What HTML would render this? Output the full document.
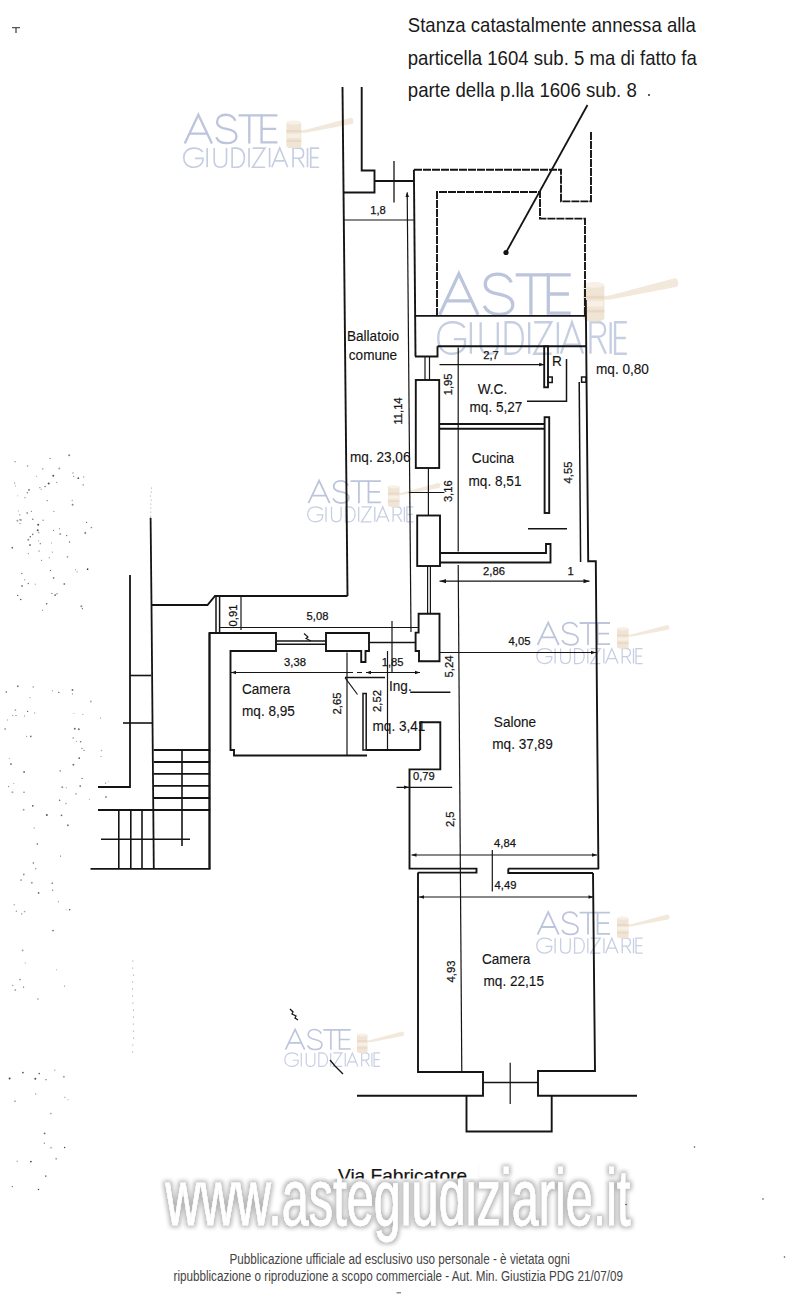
<!DOCTYPE html>
<html><head><meta charset="utf-8"><title>Planimetria</title>
<style>html,body{margin:0;padding:0;background:#fff;width:800px;height:1313px;overflow:hidden}svg{display:block}</style>
</head><body>
<svg width="800" height="1313" viewBox="0 0 800 1313" font-family='"Liberation Sans", sans-serif'>
<defs>
<filter id="glow" x="-5%" y="-20%" width="110%" height="140%">
<feMorphology in="SourceAlpha" operator="dilate" radius="2" result="d"/>
<feGaussianBlur in="d" stdDeviation="1.9" result="b"/>
<feComponentTransfer in="b" result="c"><feFuncA type="linear" slope="0.28"/></feComponentTransfer>
<feMerge><feMergeNode in="c"/><feMergeNode in="SourceGraphic"/></feMerge>
</filter>
<clipPath id="viaclip"><rect x="300" y="1140" width="200" height="38.6"/></clipPath>
</defs>
<rect width="800" height="1313" fill="#ffffff"/>
<g transform="translate(184,114) scale(1.28)" opacity="1"><path d="M0.6,23 L11.2,0.5 L21.8,23 M4.3,15.4 H18.1" fill="none" stroke="#bcc5db" stroke-width="1.8"/><path d="M40.2,5.2 C38.6,1.8 35.6,0.6 32.6,0.6 C28.6,0.6 25.8,2.8 25.8,6.2 C25.8,9.6 28.6,10.8 33.2,11.7 C38.2,12.6 41,14.2 41,17.4 C41,21 37.6,22.8 33.2,22.8 C29.2,22.8 26.4,21 25.2,18.2" fill="none" stroke="#bcc5db" stroke-width="1.8"/><path d="M42.6,1 H61 M51,1 V23" fill="none" stroke="#bcc5db" stroke-width="1.8"/><path d="M73,1 H60.6 V22.2 H73 M60.6,11.6 H72" fill="none" stroke="#bcc5db" stroke-width="1.8"/><path transform="scale(1.0,1)" d="M14.6,29.6 C13,27.400000000000002 10.6,26.6 7.6,26.6 C2.6,26.6 -0.2,30.0 -0.2,34.1 C-0.2,38.2 2.6,41.6 7.6,41.6 C11.6,41.6 14.8,39.2 14.8,36.0 V34.7 H8.6 M18.1,26.6 V41.6 M23.6,26.6 V36.6 C23.6,40.2 25.6,41.6 28.4,41.6 C31.2,41.6 33.2,40.2 33.2,36.6 V26.6 M37.6,26.6 V41.6 H41 C45,41.6 47.2,38.2 47.2,34.1 C47.2,30.0 45,26.6 41,26.6 Z M50.8,26.6 V41.6 M53.6,26.6 H63.2 L53.6,41.6 H63.4 M66.9,26.6 V41.6 M68.6,41.6 L74.8,26.6 L81,41.6 M70.8,36.6 H78.8 M85.2,41.6 V26.6 H89.6 C92,26.6 93.4,28.200000000000003 93.4,30.6 C93.4,33.0 92,34.6 89.6,34.6 H85.2 M89.4,34.6 L93.8,41.6 M96.5,26.6 V41.6 M105.6,26.6 H99 V41.6 H105.6 M99,34.1 H105" fill="none" stroke="#c6cee2" stroke-width="1.3"/><path d="M91.5,12.8 L95,12.3 L130.4,2.9 C132.6,2.6 133.2,7.4 131.2,7.8 L95,14.6 L91.5,14.8 Z" fill="#f2e8db"/><path d="M80,7 C80,5.4 91.6,5.4 91.6,7 V25 C91.6,27.4 80,27.4 80,25 Z" fill="#f0e4d4"/><ellipse cx="85.8" cy="6.6" rx="5.8" ry="1.6" fill="#f7f0e6"/><rect x="80" y="12.6" width="11.6" height="1.6" fill="#e8d8c4"/><rect x="80.6" y="15.4" width="10.4" height="3.2" fill="#f7f0e6"/><rect x="80" y="20.4" width="11.6" height="1.4" fill="#e8d8c4"/></g>
<g transform="translate(438.6,273) scale(1.81)" opacity="1"><path d="M0.6,23 L11.2,0.5 L21.8,23 M4.3,15.4 H18.1" fill="none" stroke="#bcc5db" stroke-width="1.8"/><path d="M40.2,5.2 C38.6,1.8 35.6,0.6 32.6,0.6 C28.6,0.6 25.8,2.8 25.8,6.2 C25.8,9.6 28.6,10.8 33.2,11.7 C38.2,12.6 41,14.2 41,17.4 C41,21 37.6,22.8 33.2,22.8 C29.2,22.8 26.4,21 25.2,18.2" fill="none" stroke="#bcc5db" stroke-width="1.8"/><path d="M42.6,1 H61 M51,1 V23" fill="none" stroke="#bcc5db" stroke-width="1.8"/><path d="M73,1 H60.6 V22.2 H73 M60.6,11.6 H72" fill="none" stroke="#bcc5db" stroke-width="1.8"/><path transform="scale(0.985,1)" d="M14.6,30.2 C13,28.0 10.6,27.2 7.6,27.2 C2.6,27.2 -0.2,30.599999999999998 -0.2,35.9 C-0.2,41.2 2.6,44.6 7.6,44.6 C11.6,44.6 14.8,42.2 14.8,39.0 V36.5 H8.6 M18.1,27.2 V44.6 M23.6,27.2 V39.6 C23.6,43.2 25.6,44.6 28.4,44.6 C31.2,44.6 33.2,43.2 33.2,39.6 V27.2 M37.6,27.2 V44.6 H41 C45,44.6 47.2,41.2 47.2,35.9 C47.2,30.599999999999998 45,27.2 41,27.2 Z M50.8,27.2 V44.6 M53.6,27.2 H63.2 L53.6,44.6 H63.4 M66.9,27.2 V44.6 M68.6,44.6 L74.8,27.2 L81,44.6 M70.8,39.6 H78.8 M85.2,44.6 V27.2 H89.6 C92,27.2 93.4,28.8 93.4,31.2 C93.4,33.6 92,35.2 89.6,35.2 H85.2 M89.4,35.2 L93.8,44.6 M96.5,27.2 V44.6 M105.6,27.2 H99 V44.6 H105.6 M99,35.9 H105" fill="none" stroke="#c6cee2" stroke-width="1.3"/><path d="M91.5,12.8 L95,12.3 L130.4,2.9 C132.6,2.6 133.2,7.4 131.2,7.8 L95,14.6 L91.5,14.8 Z" fill="#f2e8db"/><path d="M80,7 C80,5.4 91.6,5.4 91.6,7 V25 C91.6,27.4 80,27.4 80,25 Z" fill="#f0e4d4"/><ellipse cx="85.8" cy="6.6" rx="5.8" ry="1.6" fill="#f7f0e6"/><rect x="80" y="12.6" width="11.6" height="1.6" fill="#e8d8c4"/><rect x="80.6" y="15.4" width="10.4" height="3.2" fill="#f7f0e6"/><rect x="80" y="20.4" width="11.6" height="1.4" fill="#e8d8c4"/></g>
<g transform="translate(307.9,480.2) scale(1.0)" opacity="1"><path d="M0.6,23 L11.2,0.5 L21.8,23 M4.3,15.4 H18.1" fill="none" stroke="#bcc5db" stroke-width="1.8"/><path d="M40.2,5.2 C38.6,1.8 35.6,0.6 32.6,0.6 C28.6,0.6 25.8,2.8 25.8,6.2 C25.8,9.6 28.6,10.8 33.2,11.7 C38.2,12.6 41,14.2 41,17.4 C41,21 37.6,22.8 33.2,22.8 C29.2,22.8 26.4,21 25.2,18.2" fill="none" stroke="#bcc5db" stroke-width="1.8"/><path d="M42.6,1 H61 M51,1 V23" fill="none" stroke="#bcc5db" stroke-width="1.8"/><path d="M73,1 H60.6 V22.2 H73 M60.6,11.6 H72" fill="none" stroke="#bcc5db" stroke-width="1.8"/><path transform="scale(1.0,1)" d="M14.6,29.6 C13,27.400000000000002 10.6,26.6 7.6,26.6 C2.6,26.6 -0.2,30.0 -0.2,34.1 C-0.2,38.2 2.6,41.6 7.6,41.6 C11.6,41.6 14.8,39.2 14.8,36.0 V34.7 H8.6 M18.1,26.6 V41.6 M23.6,26.6 V36.6 C23.6,40.2 25.6,41.6 28.4,41.6 C31.2,41.6 33.2,40.2 33.2,36.6 V26.6 M37.6,26.6 V41.6 H41 C45,41.6 47.2,38.2 47.2,34.1 C47.2,30.0 45,26.6 41,26.6 Z M50.8,26.6 V41.6 M53.6,26.6 H63.2 L53.6,41.6 H63.4 M66.9,26.6 V41.6 M68.6,41.6 L74.8,26.6 L81,41.6 M70.8,36.6 H78.8 M85.2,41.6 V26.6 H89.6 C92,26.6 93.4,28.200000000000003 93.4,30.6 C93.4,33.0 92,34.6 89.6,34.6 H85.2 M89.4,34.6 L93.8,41.6 M96.5,26.6 V41.6 M105.6,26.6 H99 V41.6 H105.6 M99,34.1 H105" fill="none" stroke="#c6cee2" stroke-width="1.3"/><path d="M91.5,12.8 L95,12.3 L130.4,2.9 C132.6,2.6 133.2,7.4 131.2,7.8 L95,14.6 L91.5,14.8 Z" fill="#f2e8db"/><path d="M80,7 C80,5.4 91.6,5.4 91.6,7 V25 C91.6,27.4 80,27.4 80,25 Z" fill="#f0e4d4"/><ellipse cx="85.8" cy="6.6" rx="5.8" ry="1.6" fill="#f7f0e6"/><rect x="80" y="12.6" width="11.6" height="1.6" fill="#e8d8c4"/><rect x="80.6" y="15.4" width="10.4" height="3.2" fill="#f7f0e6"/><rect x="80" y="20.4" width="11.6" height="1.4" fill="#e8d8c4"/></g>
<g transform="translate(537,622) scale(1.0)" opacity="1"><path d="M0.6,23 L11.2,0.5 L21.8,23 M4.3,15.4 H18.1" fill="none" stroke="#bcc5db" stroke-width="1.8"/><path d="M40.2,5.2 C38.6,1.8 35.6,0.6 32.6,0.6 C28.6,0.6 25.8,2.8 25.8,6.2 C25.8,9.6 28.6,10.8 33.2,11.7 C38.2,12.6 41,14.2 41,17.4 C41,21 37.6,22.8 33.2,22.8 C29.2,22.8 26.4,21 25.2,18.2" fill="none" stroke="#bcc5db" stroke-width="1.8"/><path d="M42.6,1 H61 M51,1 V23" fill="none" stroke="#bcc5db" stroke-width="1.8"/><path d="M73,1 H60.6 V22.2 H73 M60.6,11.6 H72" fill="none" stroke="#bcc5db" stroke-width="1.8"/><path transform="scale(1.0,1)" d="M14.6,29.6 C13,27.400000000000002 10.6,26.6 7.6,26.6 C2.6,26.6 -0.2,30.0 -0.2,34.1 C-0.2,38.2 2.6,41.6 7.6,41.6 C11.6,41.6 14.8,39.2 14.8,36.0 V34.7 H8.6 M18.1,26.6 V41.6 M23.6,26.6 V36.6 C23.6,40.2 25.6,41.6 28.4,41.6 C31.2,41.6 33.2,40.2 33.2,36.6 V26.6 M37.6,26.6 V41.6 H41 C45,41.6 47.2,38.2 47.2,34.1 C47.2,30.0 45,26.6 41,26.6 Z M50.8,26.6 V41.6 M53.6,26.6 H63.2 L53.6,41.6 H63.4 M66.9,26.6 V41.6 M68.6,41.6 L74.8,26.6 L81,41.6 M70.8,36.6 H78.8 M85.2,41.6 V26.6 H89.6 C92,26.6 93.4,28.200000000000003 93.4,30.6 C93.4,33.0 92,34.6 89.6,34.6 H85.2 M89.4,34.6 L93.8,41.6 M96.5,26.6 V41.6 M105.6,26.6 H99 V41.6 H105.6 M99,34.1 H105" fill="none" stroke="#c6cee2" stroke-width="1.3"/><path d="M91.5,12.8 L95,12.3 L130.4,2.9 C132.6,2.6 133.2,7.4 131.2,7.8 L95,14.6 L91.5,14.8 Z" fill="#f2e8db"/><path d="M80,7 C80,5.4 91.6,5.4 91.6,7 V25 C91.6,27.4 80,27.4 80,25 Z" fill="#f0e4d4"/><ellipse cx="85.8" cy="6.6" rx="5.8" ry="1.6" fill="#f7f0e6"/><rect x="80" y="12.6" width="11.6" height="1.6" fill="#e8d8c4"/><rect x="80.6" y="15.4" width="10.4" height="3.2" fill="#f7f0e6"/><rect x="80" y="20.4" width="11.6" height="1.4" fill="#e8d8c4"/></g>
<g transform="translate(537,911.6) scale(1.0)" opacity="1"><path d="M0.6,23 L11.2,0.5 L21.8,23 M4.3,15.4 H18.1" fill="none" stroke="#bcc5db" stroke-width="1.8"/><path d="M40.2,5.2 C38.6,1.8 35.6,0.6 32.6,0.6 C28.6,0.6 25.8,2.8 25.8,6.2 C25.8,9.6 28.6,10.8 33.2,11.7 C38.2,12.6 41,14.2 41,17.4 C41,21 37.6,22.8 33.2,22.8 C29.2,22.8 26.4,21 25.2,18.2" fill="none" stroke="#bcc5db" stroke-width="1.8"/><path d="M42.6,1 H61 M51,1 V23" fill="none" stroke="#bcc5db" stroke-width="1.8"/><path d="M73,1 H60.6 V22.2 H73 M60.6,11.6 H72" fill="none" stroke="#bcc5db" stroke-width="1.8"/><path transform="scale(1.0,1)" d="M14.6,29.6 C13,27.400000000000002 10.6,26.6 7.6,26.6 C2.6,26.6 -0.2,30.0 -0.2,34.1 C-0.2,38.2 2.6,41.6 7.6,41.6 C11.6,41.6 14.8,39.2 14.8,36.0 V34.7 H8.6 M18.1,26.6 V41.6 M23.6,26.6 V36.6 C23.6,40.2 25.6,41.6 28.4,41.6 C31.2,41.6 33.2,40.2 33.2,36.6 V26.6 M37.6,26.6 V41.6 H41 C45,41.6 47.2,38.2 47.2,34.1 C47.2,30.0 45,26.6 41,26.6 Z M50.8,26.6 V41.6 M53.6,26.6 H63.2 L53.6,41.6 H63.4 M66.9,26.6 V41.6 M68.6,41.6 L74.8,26.6 L81,41.6 M70.8,36.6 H78.8 M85.2,41.6 V26.6 H89.6 C92,26.6 93.4,28.200000000000003 93.4,30.6 C93.4,33.0 92,34.6 89.6,34.6 H85.2 M89.4,34.6 L93.8,41.6 M96.5,26.6 V41.6 M105.6,26.6 H99 V41.6 H105.6 M99,34.1 H105" fill="none" stroke="#c6cee2" stroke-width="1.3"/><path d="M91.5,12.8 L95,12.3 L130.4,2.9 C132.6,2.6 133.2,7.4 131.2,7.8 L95,14.6 L91.5,14.8 Z" fill="#f2e8db"/><path d="M80,7 C80,5.4 91.6,5.4 91.6,7 V25 C91.6,27.4 80,27.4 80,25 Z" fill="#f0e4d4"/><ellipse cx="85.8" cy="6.6" rx="5.8" ry="1.6" fill="#f7f0e6"/><rect x="80" y="12.6" width="11.6" height="1.6" fill="#e8d8c4"/><rect x="80.6" y="15.4" width="10.4" height="3.2" fill="#f7f0e6"/><rect x="80" y="20.4" width="11.6" height="1.4" fill="#e8d8c4"/></g>
<g transform="translate(285,1029) scale(0.9)" opacity="1"><path d="M0.6,23 L11.2,0.5 L21.8,23 M4.3,15.4 H18.1" fill="none" stroke="#bcc5db" stroke-width="1.8"/><path d="M40.2,5.2 C38.6,1.8 35.6,0.6 32.6,0.6 C28.6,0.6 25.8,2.8 25.8,6.2 C25.8,9.6 28.6,10.8 33.2,11.7 C38.2,12.6 41,14.2 41,17.4 C41,21 37.6,22.8 33.2,22.8 C29.2,22.8 26.4,21 25.2,18.2" fill="none" stroke="#bcc5db" stroke-width="1.8"/><path d="M42.6,1 H61 M51,1 V23" fill="none" stroke="#bcc5db" stroke-width="1.8"/><path d="M73,1 H60.6 V22.2 H73 M60.6,11.6 H72" fill="none" stroke="#bcc5db" stroke-width="1.8"/><path transform="scale(1.0,1)" d="M14.6,29.6 C13,27.400000000000002 10.6,26.6 7.6,26.6 C2.6,26.6 -0.2,30.0 -0.2,34.1 C-0.2,38.2 2.6,41.6 7.6,41.6 C11.6,41.6 14.8,39.2 14.8,36.0 V34.7 H8.6 M18.1,26.6 V41.6 M23.6,26.6 V36.6 C23.6,40.2 25.6,41.6 28.4,41.6 C31.2,41.6 33.2,40.2 33.2,36.6 V26.6 M37.6,26.6 V41.6 H41 C45,41.6 47.2,38.2 47.2,34.1 C47.2,30.0 45,26.6 41,26.6 Z M50.8,26.6 V41.6 M53.6,26.6 H63.2 L53.6,41.6 H63.4 M66.9,26.6 V41.6 M68.6,41.6 L74.8,26.6 L81,41.6 M70.8,36.6 H78.8 M85.2,41.6 V26.6 H89.6 C92,26.6 93.4,28.200000000000003 93.4,30.6 C93.4,33.0 92,34.6 89.6,34.6 H85.2 M89.4,34.6 L93.8,41.6 M96.5,26.6 V41.6 M105.6,26.6 H99 V41.6 H105.6 M99,34.1 H105" fill="none" stroke="#c6cee2" stroke-width="1.3"/><path d="M91.5,12.8 L95,12.3 L130.4,2.9 C132.6,2.6 133.2,7.4 131.2,7.8 L95,14.6 L91.5,14.8 Z" fill="#f2e8db"/><path d="M80,7 C80,5.4 91.6,5.4 91.6,7 V25 C91.6,27.4 80,27.4 80,25 Z" fill="#f0e4d4"/><ellipse cx="85.8" cy="6.6" rx="5.8" ry="1.6" fill="#f7f0e6"/><rect x="80" y="12.6" width="11.6" height="1.6" fill="#e8d8c4"/><rect x="80.6" y="15.4" width="10.4" height="3.2" fill="#f7f0e6"/><rect x="80" y="20.4" width="11.6" height="1.4" fill="#e8d8c4"/></g>
<text x="407.8" y="32" font-size="18.6" text-anchor="start" fill="#1a1a1a" textLength="288" lengthAdjust="spacingAndGlyphs" transform="matrix(1 0 0 1.1 0 -3.200)">Stanza catastalmente annessa alla</text>
<text x="407.8" y="65" font-size="18.6" text-anchor="start" fill="#1a1a1a" textLength="289" lengthAdjust="spacingAndGlyphs" transform="matrix(1 0 0 1.1 0 -6.500)">particella 1604 sub. 5 ma di fatto fa</text>
<text x="407.8" y="97.5" font-size="18.6" text-anchor="start" fill="#1a1a1a" textLength="229" lengthAdjust="spacingAndGlyphs" transform="matrix(1 0 0 1.1 0 -9.750)">parte della p.lla 1606 sub. 8</text>
<circle cx="649" cy="95" r="0.9" fill="#141414"/>
<path d="M12,27.6 H20 M16,27.6 V33" stroke="#555" stroke-width="1.4" fill="none"/>
<path d="M587.5,105 L506,252.5" fill="none" stroke="#141414" stroke-width="1.8" stroke-linejoin="miter" stroke-linecap="butt"/>
<circle cx="506" cy="252.5" r="2.6" fill="#141414"/>
<path d="M342.5,87 L347.5,596" fill="none" stroke="#141414" stroke-width="1.9" stroke-linejoin="miter" stroke-linecap="butt"/>
<path d="M361.7,87 V170.5 H374.5 V192.5 H343.4" fill="none" stroke="#141414" stroke-width="1.9" stroke-linejoin="miter" stroke-linecap="butt"/>
<path d="M374.5,181 L413.8,181" fill="none" stroke="#141414" stroke-width="1.9" stroke-linejoin="miter" stroke-linecap="butt"/>
<path d="M394,161 L394,202.5" fill="none" stroke="#141414" stroke-width="1.3" stroke-linejoin="miter" stroke-linecap="butt"/>
<path d="M343.6,220 L413.8,220" fill="none" stroke="#141414" stroke-width="1.2" stroke-linejoin="miter" stroke-linecap="butt"/>
<text x="378" y="214.032" font-size="11.2" text-anchor="middle" fill="#141414" stroke="#141414" stroke-width="0.25">1,8</text>
<path d="M407.2,192.5 L411,632" fill="none" stroke="#141414" stroke-width="1.2" stroke-linejoin="miter" stroke-linecap="butt"/>
<polygon points="407.2,192 405.45,197 408.95,197" fill="#141414"/>
<path d="M413.9,169.8 L415.5,356.5" fill="none" stroke="#141414" stroke-width="1.9" stroke-linejoin="miter" stroke-linecap="butt"/>
<path d="M414,169.8 H561 V201.4 H591 V131" fill="none" stroke="#141414" stroke-width="1.9" stroke-dasharray="8 1" stroke-linejoin="miter" stroke-linecap="butt"/>
<path d="M437,316 V192 H540 V218.6 H585 V316" fill="none" stroke="#141414" stroke-width="1.9" stroke-dasharray="8 1" stroke-linejoin="miter" stroke-linecap="butt"/>
<path d="M414.5,315.9 L585.8,315.9" fill="none" stroke="#141414" stroke-width="1.9" stroke-linejoin="miter" stroke-linecap="butt"/>
<path d="M437.5,346.3 L586.3,346.3" fill="none" stroke="#141414" stroke-width="1.9" stroke-linejoin="miter" stroke-linecap="butt"/>
<path d="M437.5,346.3 V356.5 H415" fill="none" stroke="#141414" stroke-width="1.9" stroke-linejoin="miter" stroke-linecap="butt"/>
<path d="M585.8,300 L588.2,561.2 H595.8 L598.4,869" fill="none" stroke="#141414" stroke-width="1.9" stroke-linejoin="miter" stroke-linecap="butt"/>
<path d="M425,356.5 L425,380" fill="none" stroke="#141414" stroke-width="1.2" stroke-linejoin="miter" stroke-linecap="butt"/>
<path d="M429.5,356.5 L429.5,380" fill="none" stroke="#141414" stroke-width="1.2" stroke-linejoin="miter" stroke-linecap="butt"/>
<rect x="415.8" y="380" width="23.4" height="88" fill="none" stroke="#141414" stroke-width="1.9"/>
<path d="M428.4,468 L428.4,515.5" fill="none" stroke="#141414" stroke-width="1.2" stroke-linejoin="miter" stroke-linecap="butt"/>
<path d="M408.8,492.5 L444.4,492.5" fill="none" stroke="#141414" stroke-width="1.2" stroke-linejoin="miter" stroke-linecap="butt"/>
<rect x="417.2" y="515.5" width="22.8" height="50.5" fill="none" stroke="#141414" stroke-width="1.9"/>
<path d="M427.6,566 L427.6,613.8" fill="none" stroke="#141414" stroke-width="1.2" stroke-linejoin="miter" stroke-linecap="butt"/>
<path d="M430.4,566 L430.4,613.8" fill="none" stroke="#141414" stroke-width="1.2" stroke-linejoin="miter" stroke-linecap="butt"/>
<path d="M418.6,613.8 H439.5 V661.3 H419 V651 H415.6 V632.6 H418.6 Z" fill="none" stroke="#141414" stroke-width="1.9" stroke-linejoin="miter" stroke-linecap="butt"/>
<rect x="544.2" y="346.3" width="3.8" height="41" fill="none" stroke="#141414" stroke-width="1.9"/>
<rect x="548" y="377" width="4.2" height="5.5" fill="none" stroke="#141414" stroke-width="1.5"/>
<path d="M566.5,359 V401.3 H527" fill="none" stroke="#141414" stroke-width="1.5" stroke-linejoin="miter" stroke-linecap="butt"/>
<rect x="581.6" y="377" width="4.4" height="5.2" fill="none" stroke="#141414" stroke-width="1.5"/>
<path d="M579.2,382 L580.6,562" fill="none" stroke="#141414" stroke-width="1.5" stroke-linejoin="miter" stroke-linecap="butt"/>
<path d="M439.2,424 L544.6,424" fill="none" stroke="#141414" stroke-width="1.9" stroke-linejoin="miter" stroke-linecap="butt"/>
<path d="M439.2,428.8 L544.6,428.8" fill="none" stroke="#141414" stroke-width="1.9" stroke-linejoin="miter" stroke-linecap="butt"/>
<rect x="544.6" y="417.2" width="4.6" height="95.8" fill="none" stroke="#141414" stroke-width="1.9"/>
<path d="M528,528.8 L567,528.8" fill="none" stroke="#141414" stroke-width="1.5" stroke-linejoin="miter" stroke-linecap="butt"/>
<path d="M440,553 H546 V544 H550.5 V562.5 H440" fill="none" stroke="#141414" stroke-width="1.9" stroke-linejoin="miter" stroke-linecap="butt"/>
<path d="M458.2,347.5 L458.2,551.5" fill="none" stroke="#141414" stroke-width="1.2" stroke-linejoin="miter" stroke-linecap="butt"/>
<path d="M439.5,364.6 L544.2,364.6" fill="none" stroke="#141414" stroke-width="1.2" stroke-linejoin="miter" stroke-linecap="butt"/>
<polygon points="544.2,364.6 539.2,362.85 539.2,366.35" fill="#141414"/>
<text x="491" y="358.532" font-size="11.2" text-anchor="middle" fill="#141414" stroke="#141414" stroke-width="0.25">2,7</text>
<text x="451.632" y="384.4" font-size="11.2" text-anchor="middle" fill="#141414" stroke="#141414" stroke-width="0.25" transform="rotate(-90 451.632 384.4)">1,95</text>
<text x="402.032" y="411" font-size="11.2" text-anchor="middle" fill="#141414" stroke="#141414" stroke-width="0.25" transform="rotate(-90 402.032 411)">11,14</text>
<text x="452.23199999999997" y="491.2" font-size="11.2" text-anchor="middle" fill="#141414" stroke="#141414" stroke-width="0.25" transform="rotate(-90 452.23199999999997 491.2)">3,16</text>
<text x="572.2320000000001" y="472.5" font-size="11.2" text-anchor="middle" fill="#141414" stroke="#141414" stroke-width="0.25" transform="rotate(-90 572.2320000000001 472.5)">4,55</text>
<path d="M439.5,581.2 L589.5,581.2" fill="none" stroke="#141414" stroke-width="1.2" stroke-linejoin="miter" stroke-linecap="butt"/>
<polygon points="440,581.2 446,579.1 446,583.3000000000001" fill="#141414"/>
<polygon points="589.5,581.2 583.5,579.1 583.5,583.3000000000001" fill="#141414"/>
<text x="494" y="574.532" font-size="11.2" text-anchor="middle" fill="#141414" stroke="#141414" stroke-width="0.25">2,86</text>
<text x="570.5" y="574.532" font-size="11.2" text-anchor="middle" fill="#141414" stroke="#141414" stroke-width="0.25">1</text>
<path d="M458.2,565 L461.8,1072" fill="none" stroke="#141414" stroke-width="1.2" stroke-linejoin="miter" stroke-linecap="butt"/>
<path d="M439.5,652.5 L596,652.5" fill="none" stroke="#141414" stroke-width="1.2" stroke-linejoin="miter" stroke-linecap="butt"/>
<polygon points="596,652.5 591,650.75 591,654.25" fill="#141414"/>
<text x="519.5" y="644.832" font-size="11.2" text-anchor="middle" fill="#141414" stroke="#141414" stroke-width="0.25">4,05</text>
<text x="453.032" y="666.5" font-size="11.2" text-anchor="middle" fill="#141414" stroke="#141414" stroke-width="0.25" transform="rotate(-90 453.032 666.5)">5,24</text>
<path d="M347.5,596 H215 L207.5,605 H151" fill="none" stroke="#141414" stroke-width="1.9" stroke-linejoin="miter" stroke-linecap="butt"/>
<path d="M216,597 L216,632.5" fill="none" stroke="#141414" stroke-width="1.5" stroke-linejoin="miter" stroke-linecap="butt"/>
<path d="M219.6,597 L219.6,632.5" fill="none" stroke="#141414" stroke-width="1.5" stroke-linejoin="miter" stroke-linecap="butt"/>
<path d="M241,597 L241,630" fill="none" stroke="#141414" stroke-width="1.2" stroke-linejoin="miter" stroke-linecap="butt"/>
<text x="236.532" y="615.5" font-size="11.2" text-anchor="middle" fill="#141414" stroke="#141414" stroke-width="0.25" transform="rotate(-90 236.532 615.5)">0,91</text>
<path d="M220,627.5 L418,627.5" fill="none" stroke="#141414" stroke-width="1.2" stroke-linejoin="miter" stroke-linecap="butt"/>
<text x="317.5" y="620.2320000000001" font-size="11.2" text-anchor="middle" fill="#141414" stroke="#141414" stroke-width="0.25">5,08</text>
<path d="M392,621 L392,672.5" fill="none" stroke="#141414" stroke-width="1.2" stroke-linejoin="miter" stroke-linecap="butt"/>
<path d="M209.5,868.8 V633 H276 V651 H230.5 V750 H234 V755.5 H367" fill="none" stroke="#141414" stroke-width="1.9" stroke-linejoin="miter" stroke-linecap="butt"/>
<path d="M276,641 L326,641" fill="none" stroke="#141414" stroke-width="1.5" stroke-linejoin="miter" stroke-linecap="butt"/>
<path d="M276,644.2 L326,644.2" fill="none" stroke="#141414" stroke-width="1.5" stroke-linejoin="miter" stroke-linecap="butt"/>
<path d="M326,633 H369 V651 H365.5 V662 H361.2 V651 H326 Z" fill="none" stroke="#141414" stroke-width="1.9" stroke-linejoin="miter" stroke-linecap="butt"/>
<path d="M369,642.4 L415.6,642.4" fill="none" stroke="#141414" stroke-width="1.5" stroke-linejoin="miter" stroke-linecap="butt"/>
<path d="M304,633.5 L308,637 L306,638.5 L311,641" fill="none" stroke="#141414" stroke-width="1.1" stroke-linejoin="miter" stroke-linecap="butt"/>
<path d="M230.5,672.5 L347,672.5" fill="none" stroke="#141414" stroke-width="1.2" stroke-linejoin="miter" stroke-linecap="butt"/>
<path d="M347,672.5 L362,672.5" fill="none" stroke="#141414" stroke-width="1.2" stroke-dasharray="6 4" stroke-linejoin="miter" stroke-linecap="butt"/>
<path d="M366,672.5 L420,672.5" fill="none" stroke="#141414" stroke-width="1.2" stroke-linejoin="miter" stroke-linecap="butt"/>
<polygon points="366,672.5 371,670.75 371,674.25" fill="#141414"/>
<polygon points="231,672.5 236,670.75 236,674.25" fill="#141414"/>
<polygon points="420,672.5 415,670.75 415,674.25" fill="#141414"/>
<text x="295" y="666.2320000000001" font-size="11.2" text-anchor="middle" fill="#141414" stroke="#141414" stroke-width="0.25">3,38</text>
<text x="392.6" y="665.6320000000001" font-size="11.2" text-anchor="middle" fill="#141414" stroke="#141414" stroke-width="0.25">1,85</text>
<path d="M347,652.5 L347,755.5" fill="none" stroke="#141414" stroke-width="1.2" stroke-linejoin="miter" stroke-linecap="butt"/>
<path d="M387.5,651 L387.5,750" fill="none" stroke="#141414" stroke-width="1.2" stroke-linejoin="miter" stroke-linecap="butt"/>
<path d="M345,677.6 L385,677.6" fill="none" stroke="#141414" stroke-width="1.5" stroke-linejoin="miter" stroke-linecap="butt"/>
<path d="M345,677.6 L357.5,694.5" fill="none" stroke="#141414" stroke-width="1.1" stroke-linejoin="miter" stroke-linecap="butt"/>
<rect x="363" y="693.5" width="3.2" height="56.5" fill="none" stroke="#141414" stroke-width="1.5"/>
<path d="M366.2,750 L420.2,750" fill="none" stroke="#141414" stroke-width="1.9" stroke-linejoin="miter" stroke-linecap="butt"/>
<text x="341.032" y="703.5" font-size="11.2" text-anchor="middle" fill="#141414" stroke="#141414" stroke-width="0.25" transform="rotate(-90 341.032 703.5)">2,65</text>
<text x="381.032" y="701" font-size="11.2" text-anchor="middle" fill="#141414" stroke="#141414" stroke-width="0.25" transform="rotate(-90 381.032 701)">2,52</text>
<path d="M420.2,750 V722.3 H440.3 V769.4 H409.5 V868.6 H476.5 V872.6 H418" fill="none" stroke="#141414" stroke-width="1.9" stroke-linejoin="miter" stroke-linecap="butt"/>
<path d="M410.2,692.3 L450.4,692.3" fill="none" stroke="#141414" stroke-width="1.5" stroke-linejoin="miter" stroke-linecap="butt"/>
<path d="M396.5,787.3 L452.2,787.3" fill="none" stroke="#141414" stroke-width="1.2" stroke-linejoin="miter" stroke-linecap="butt"/>
<polygon points="409,787.3 404,785.55 404,789.05" fill="#141414"/>
<text x="423.9" y="780.432" font-size="11.2" text-anchor="middle" fill="#141414" stroke="#141414" stroke-width="0.25">0,79</text>
<text x="453.632" y="819.2" font-size="11.2" text-anchor="middle" fill="#141414" stroke="#141414" stroke-width="0.25" transform="rotate(-90 453.632 819.2)">2,5</text>
<path d="M411.5,855 L597,855" fill="none" stroke="#141414" stroke-width="1.2" stroke-linejoin="miter" stroke-linecap="butt"/>
<polygon points="411.5,855 416.5,853.25 416.5,856.75" fill="#141414"/>
<polygon points="597,855 592,853.25 592,856.75" fill="#141414"/>
<text x="505" y="847.2320000000001" font-size="11.2" text-anchor="middle" fill="#141414" stroke="#141414" stroke-width="0.25">4,84</text>
<path d="M492.3,850 L492.3,891.4" fill="none" stroke="#141414" stroke-width="1.2" stroke-linejoin="miter" stroke-linecap="butt"/>
<text x="505.5" y="889.032" font-size="11.2" text-anchor="middle" fill="#141414" stroke="#141414" stroke-width="0.25">4,49</text>
<path d="M508.3,868.6 H599 M508.3,868.6 V873 H593" fill="none" stroke="#141414" stroke-width="1.9" stroke-linejoin="miter" stroke-linecap="butt"/>
<path d="M419,897 L593.5,897" fill="none" stroke="#141414" stroke-width="1.2" stroke-linejoin="miter" stroke-linecap="butt"/>
<polygon points="419,897 424,895.25 424,898.75" fill="#141414"/>
<polygon points="593.5,897 588.5,895.25 588.5,898.75" fill="#141414"/>
<path d="M418,872.6 V1072 H483 V1095.7 H357" fill="none" stroke="#141414" stroke-width="1.9" stroke-linejoin="miter" stroke-linecap="butt"/>
<path d="M593,873 L595,1071 H538 V1095.7 H637" fill="none" stroke="#141414" stroke-width="1.9" stroke-linejoin="miter" stroke-linecap="butt"/>
<path d="M483,1082.5 L538,1082.5" fill="none" stroke="#141414" stroke-width="1.5" stroke-linejoin="miter" stroke-linecap="butt"/>
<path d="M510.2,1062.7 L510.2,1104" fill="none" stroke="#141414" stroke-width="1.2" stroke-linejoin="miter" stroke-linecap="butt"/>
<path d="M466.5,1095.7 V1131.5 H551.7 V1095.7" fill="none" stroke="#141414" stroke-width="1.9" stroke-linejoin="miter" stroke-linecap="butt"/>
<text x="455.032" y="971.5" font-size="11.2" text-anchor="middle" fill="#141414" stroke="#141414" stroke-width="0.25" transform="rotate(-90 455.032 971.5)">4,93</text>
<path d="M130,575 V787 H98" fill="none" stroke="#141414" stroke-width="1.8" stroke-linejoin="miter" stroke-linecap="butt"/>
<path d="M150.6,517.7 L151.5,605" fill="none" stroke="#141414" stroke-width="1.8" stroke-linejoin="miter" stroke-linecap="butt"/>
<path d="M151.5,605 L153.8,868.8" fill="none" stroke="#141414" stroke-width="1.8" stroke-linejoin="miter" stroke-linecap="butt"/>
<path d="M130,675.5 L151,675.5" fill="none" stroke="#141414" stroke-width="1.6" stroke-linejoin="miter" stroke-linecap="butt"/>
<path d="M123,723 L152.5,723" fill="none" stroke="#141414" stroke-width="1.6" stroke-linejoin="miter" stroke-linecap="butt"/>
<path d="M153.8,750 L209.5,750" fill="none" stroke="#141414" stroke-width="1.8" stroke-linejoin="miter" stroke-linecap="butt"/>
<path d="M153.8,750 L210.2,750" fill="none" stroke="#141414" stroke-width="1.8" stroke-linejoin="miter" stroke-linecap="butt"/>
<path d="M153.8,762 L210.2,762" fill="none" stroke="#141414" stroke-width="1.8" stroke-linejoin="miter" stroke-linecap="butt"/>
<path d="M153.8,773.8 L210.2,773.8" fill="none" stroke="#141414" stroke-width="1.8" stroke-linejoin="miter" stroke-linecap="butt"/>
<path d="M153.8,785.8 L210.2,785.8" fill="none" stroke="#141414" stroke-width="1.8" stroke-linejoin="miter" stroke-linecap="butt"/>
<path d="M153.8,798 L210.2,798" fill="none" stroke="#141414" stroke-width="1.8" stroke-linejoin="miter" stroke-linecap="butt"/>
<path d="M153.8,810 L210.2,810" fill="none" stroke="#141414" stroke-width="1.8" stroke-linejoin="miter" stroke-linecap="butt"/>
<path d="M182,750 L182,846" fill="none" stroke="#141414" stroke-width="1.6" stroke-linejoin="miter" stroke-linecap="butt"/>
<path d="M98,810 L153.8,810" fill="none" stroke="#141414" stroke-width="1.8" stroke-linejoin="miter" stroke-linecap="butt"/>
<path d="M118.8,810 L118.8,868.8" fill="none" stroke="#141414" stroke-width="1.6" stroke-linejoin="miter" stroke-linecap="butt"/>
<path d="M130.8,810 L130.8,868.8" fill="none" stroke="#141414" stroke-width="1.6" stroke-linejoin="miter" stroke-linecap="butt"/>
<path d="M142,810 L142,868.8" fill="none" stroke="#141414" stroke-width="1.6" stroke-linejoin="miter" stroke-linecap="butt"/>
<path d="M101,839.2 L190,839.2" fill="none" stroke="#141414" stroke-width="1.6" stroke-linejoin="miter" stroke-linecap="butt"/>
<path d="M90.5,868.8 L210.5,868.8" fill="none" stroke="#141414" stroke-width="1.8" stroke-linejoin="miter" stroke-linecap="butt"/>
<path d="M209.5,633 V868.8" fill="none" stroke="#141414" stroke-width="1.8" stroke-linejoin="miter" stroke-linecap="butt"/>
<text x="373" y="341" font-size="13.6" text-anchor="middle" fill="#141414" stroke="#141414" stroke-width="0.12" transform="matrix(1 0 0 1.07 0 -23.870)">Ballatoio</text>
<text x="373" y="360.5" font-size="13.6" text-anchor="middle" fill="#141414" stroke="#141414" stroke-width="0.12" transform="matrix(1 0 0 1.07 0 -25.235)">comune</text>
<text x="350" y="462.5" font-size="13.6" text-anchor="start" fill="#141414" stroke="#141414" stroke-width="0.12" transform="matrix(1 0 0 1.07 0 -32.375)">mq. 23,06</text>
<text x="492.5" y="394" font-size="13.6" text-anchor="middle" fill="#141414" stroke="#141414" stroke-width="0.12" transform="matrix(1 0 0 1.07 0 -27.580)">W.C.</text>
<text x="496" y="412" font-size="13.6" text-anchor="middle" fill="#141414" stroke="#141414" stroke-width="0.12" transform="matrix(1 0 0 1.07 0 -28.840)">mq. 5,27</text>
<text x="557" y="366" font-size="13.6" text-anchor="middle" fill="#141414" stroke="#141414" stroke-width="0.12" transform="matrix(1 0 0 1.07 0 -25.620)">R</text>
<text x="596" y="374.5" font-size="13.6" text-anchor="start" fill="#141414" stroke="#141414" stroke-width="0.12" transform="matrix(1 0 0 1.07 0 -26.215)">mq. 0,80</text>
<text x="493" y="463" font-size="13.6" text-anchor="middle" fill="#141414" stroke="#141414" stroke-width="0.12" transform="matrix(1 0 0 1.07 0 -32.410)">Cucina</text>
<text x="495" y="486" font-size="13.6" text-anchor="middle" fill="#141414" stroke="#141414" stroke-width="0.12" transform="matrix(1 0 0 1.07 0 -34.020)">mq. 8,51</text>
<text x="242" y="694" font-size="13.6" text-anchor="start" fill="#141414" stroke="#141414" stroke-width="0.12" transform="matrix(1 0 0 1.07 0 -48.580)">Camera</text>
<text x="242" y="716.5" font-size="13.6" text-anchor="start" fill="#141414" stroke="#141414" stroke-width="0.12" transform="matrix(1 0 0 1.07 0 -50.155)">mq. 8,95</text>
<text x="389" y="691" font-size="13.6" text-anchor="start" fill="#141414" stroke="#141414" stroke-width="0.12" transform="matrix(1 0 0 1.07 0 -48.370)">Ing.</text>
<text x="372.5" y="731.5" font-size="13.6" text-anchor="start" fill="#141414" stroke="#141414" stroke-width="0.12" transform="matrix(1 0 0 1.07 0 -51.205)">mq. 3,41</text>
<text x="515" y="727" font-size="13.6" text-anchor="middle" fill="#141414" stroke="#141414" stroke-width="0.12" transform="matrix(1 0 0 1.07 0 -50.890)">Salone</text>
<text x="522.5" y="749" font-size="13.6" text-anchor="middle" fill="#141414" stroke="#141414" stroke-width="0.12" transform="matrix(1 0 0 1.07 0 -52.430)">mq. 37,89</text>
<text x="482" y="964" font-size="13.6" text-anchor="start" fill="#141414" stroke="#141414" stroke-width="0.12" transform="matrix(1 0 0 1.07 0 -67.480)">Camera</text>
<text x="483.5" y="986.5" font-size="13.6" text-anchor="start" fill="#141414" stroke="#141414" stroke-width="0.12" transform="matrix(1 0 0 1.07 0 -69.055)">mq. 22,15</text>
<path d="M290,1009 L293,1012 L292,1014 L296,1016 L295,1018 L298,1020" fill="none" stroke="#141414" stroke-width="1.3" stroke-linejoin="miter" stroke-linecap="butt"/>
<path d="M330,1060 L335,1066 L339,1070 L343,1074" fill="none" stroke="#141414" stroke-width="1.3" stroke-linejoin="miter" stroke-linecap="butt"/>
<circle cx="36.6" cy="476.4" r="0.55" fill="#000" fill-opacity="0.33"/>
<circle cx="53.9" cy="511.2" r="0.55" fill="#000" fill-opacity="0.66"/>
<circle cx="27.6" cy="465.9" r="0.85" fill="#000" fill-opacity="0.33"/>
<circle cx="17.4" cy="520.8" r="1.0" fill="#000" fill-opacity="0.35"/>
<circle cx="28.3" cy="553.6" r="0.55" fill="#000" fill-opacity="0.53"/>
<circle cx="42.5" cy="610.2" r="0.55" fill="#000" fill-opacity="0.52"/>
<circle cx="20.9" cy="519.9" r="1.0" fill="#000" fill-opacity="0.35"/>
<circle cx="35.3" cy="584.2" r="0.65" fill="#000" fill-opacity="0.34"/>
<circle cx="56.8" cy="482.4" r="0.55" fill="#000" fill-opacity="0.52"/>
<circle cx="15.1" cy="461.7" r="0.65" fill="#000" fill-opacity="0.50"/>
<circle cx="53.6" cy="577.9" r="0.85" fill="#000" fill-opacity="0.53"/>
<circle cx="47.2" cy="500.6" r="0.65" fill="#000" fill-opacity="0.58"/>
<circle cx="30.0" cy="545.1" r="1.0" fill="#000" fill-opacity="0.50"/>
<circle cx="38.2" cy="524.7" r="1.0" fill="#000" fill-opacity="0.69"/>
<circle cx="19.7" cy="519.7" r="0.75" fill="#000" fill-opacity="0.36"/>
<circle cx="50.1" cy="458.4" r="0.55" fill="#000" fill-opacity="0.61"/>
<circle cx="57.0" cy="593.8" r="0.75" fill="#000" fill-opacity="0.44"/>
<circle cx="38.7" cy="532.5" r="0.85" fill="#000" fill-opacity="0.33"/>
<circle cx="17.7" cy="495.7" r="0.55" fill="#000" fill-opacity="0.32"/>
<circle cx="67.5" cy="556.8" r="0.85" fill="#000" fill-opacity="0.41"/>
<circle cx="41.6" cy="560.3" r="0.55" fill="#000" fill-opacity="0.68"/>
<circle cx="39.1" cy="551.0" r="0.85" fill="#000" fill-opacity="0.32"/>
<circle cx="73.0" cy="473.0" r="0.65" fill="#000" fill-opacity="0.46"/>
<circle cx="85.2" cy="532.4" r="0.65" fill="#000" fill-opacity="0.48"/>
<circle cx="55.1" cy="595.1" r="0.85" fill="#000" fill-opacity="0.65"/>
<circle cx="32.8" cy="519.3" r="0.75" fill="#000" fill-opacity="0.57"/>
<circle cx="41.2" cy="489.4" r="0.55" fill="#000" fill-opacity="0.37"/>
<circle cx="29.0" cy="489.8" r="0.85" fill="#000" fill-opacity="0.63"/>
<circle cx="25.0" cy="497.7" r="0.65" fill="#000" fill-opacity="0.47"/>
<circle cx="40.3" cy="543.7" r="0.65" fill="#000" fill-opacity="0.58"/>
<circle cx="52.3" cy="552.1" r="0.55" fill="#000" fill-opacity="0.48"/>
<circle cx="81.4" cy="606.2" r="1.0" fill="#000" fill-opacity="0.46"/>
<circle cx="42.7" cy="468.8" r="0.85" fill="#000" fill-opacity="0.32"/>
<circle cx="15.5" cy="485.8" r="0.65" fill="#000" fill-opacity="0.34"/>
<circle cx="59.3" cy="468.6" r="1.0" fill="#000" fill-opacity="0.36"/>
<circle cx="18.3" cy="510.9" r="0.55" fill="#000" fill-opacity="0.33"/>
<circle cx="27.1" cy="512.9" r="0.75" fill="#000" fill-opacity="0.68"/>
<circle cx="59.4" cy="528.8" r="0.55" fill="#000" fill-opacity="0.64"/>
<circle cx="91.4" cy="527.5" r="0.85" fill="#000" fill-opacity="0.42"/>
<circle cx="21.8" cy="573.4" r="0.75" fill="#000" fill-opacity="0.49"/>
<circle cx="66.7" cy="535.6" r="0.65" fill="#000" fill-opacity="0.68"/>
<circle cx="53.3" cy="475.7" r="1.0" fill="#000" fill-opacity="0.67"/>
<circle cx="72.2" cy="500.3" r="0.55" fill="#000" fill-opacity="0.58"/>
<circle cx="31.4" cy="511.4" r="0.65" fill="#000" fill-opacity="0.44"/>
<circle cx="28.3" cy="539.7" r="1.0" fill="#000" fill-opacity="0.43"/>
<circle cx="28.3" cy="583.5" r="0.65" fill="#000" fill-opacity="0.62"/>
<circle cx="77.1" cy="571.9" r="0.65" fill="#000" fill-opacity="0.38"/>
<circle cx="50.4" cy="570.4" r="0.55" fill="#000" fill-opacity="0.62"/>
<circle cx="48.7" cy="483.4" r="1.0" fill="#000" fill-opacity="0.68"/>
<circle cx="46.7" cy="603.8" r="0.75" fill="#000" fill-opacity="0.68"/>
<circle cx="39.9" cy="487.7" r="0.65" fill="#000" fill-opacity="0.49"/>
<circle cx="37.7" cy="530.2" r="1.0" fill="#000" fill-opacity="0.64"/>
<circle cx="49.3" cy="557.8" r="0.55" fill="#000" fill-opacity="0.63"/>
<circle cx="19.8" cy="514.9" r="0.65" fill="#000" fill-opacity="0.49"/>
<circle cx="24.6" cy="579.8" r="0.75" fill="#000" fill-opacity="0.33"/>
<circle cx="87.6" cy="568.9" r="0.85" fill="#000" fill-opacity="0.46"/>
<circle cx="87.6" cy="569.4" r="0.65" fill="#000" fill-opacity="0.70"/>
<circle cx="12.3" cy="547.7" r="0.85" fill="#000" fill-opacity="0.62"/>
<circle cx="22.0" cy="585.9" r="0.85" fill="#000" fill-opacity="0.56"/>
<circle cx="38.7" cy="540.9" r="0.65" fill="#000" fill-opacity="0.31"/>
<circle cx="75.5" cy="569.7" r="0.55" fill="#000" fill-opacity="0.51"/>
<circle cx="86.6" cy="522.3" r="0.65" fill="#000" fill-opacity="0.63"/>
<circle cx="27.3" cy="492.8" r="0.75" fill="#000" fill-opacity="0.50"/>
<circle cx="72.6" cy="504.8" r="1.0" fill="#000" fill-opacity="0.47"/>
<circle cx="20.7" cy="599.4" r="0.75" fill="#000" fill-opacity="0.66"/>
<circle cx="64.3" cy="584.0" r="1.0" fill="#000" fill-opacity="0.47"/>
<circle cx="85.3" cy="533.3" r="1.0" fill="#000" fill-opacity="0.36"/>
<circle cx="51.9" cy="593.4" r="0.65" fill="#000" fill-opacity="0.54"/>
<circle cx="73.6" cy="476.3" r="0.65" fill="#000" fill-opacity="0.49"/>
<circle cx="69.5" cy="542.1" r="0.75" fill="#000" fill-opacity="0.57"/>
<circle cx="53.5" cy="530.2" r="0.55" fill="#000" fill-opacity="0.65"/>
<circle cx="14.7" cy="483.0" r="0.55" fill="#000" fill-opacity="0.61"/>
<circle cx="51.6" cy="543.0" r="0.55" fill="#000" fill-opacity="0.48"/>
<circle cx="60.2" cy="533.9" r="1.0" fill="#000" fill-opacity="0.38"/>
<circle cx="32.7" cy="534.3" r="0.85" fill="#000" fill-opacity="0.50"/>
<circle cx="30.3" cy="536.8" r="0.75" fill="#000" fill-opacity="0.67"/>
<circle cx="83.2" cy="484.8" r="0.85" fill="#000" fill-opacity="0.35"/>
<circle cx="20.0" cy="523.6" r="0.55" fill="#000" fill-opacity="0.57"/>
<circle cx="45.1" cy="486.5" r="0.75" fill="#000" fill-opacity="0.61"/>
<circle cx="83.6" cy="477.0" r="0.75" fill="#000" fill-opacity="0.36"/>
<circle cx="82.4" cy="608.7" r="0.65" fill="#000" fill-opacity="0.60"/>
<circle cx="17.7" cy="595.4" r="0.65" fill="#000" fill-opacity="0.70"/>
<circle cx="78.3" cy="478.2" r="0.85" fill="#000" fill-opacity="0.70"/>
<circle cx="43.1" cy="520.2" r="0.75" fill="#000" fill-opacity="0.43"/>
<circle cx="69.2" cy="455.2" r="1.0" fill="#000" fill-opacity="0.48"/>
<circle cx="78.8" cy="729.2" r="1.0" fill="#000" fill-opacity="0.55"/>
<circle cx="58.8" cy="692.4" r="0.65" fill="#000" fill-opacity="0.69"/>
<circle cx="16.0" cy="715.5" r="0.55" fill="#000" fill-opacity="0.66"/>
<circle cx="24.1" cy="771.9" r="0.85" fill="#000" fill-opacity="0.64"/>
<circle cx="76.0" cy="793.8" r="0.85" fill="#000" fill-opacity="0.36"/>
<circle cx="101.5" cy="750.6" r="0.75" fill="#000" fill-opacity="0.34"/>
<circle cx="11.0" cy="764.1" r="0.85" fill="#000" fill-opacity="0.66"/>
<circle cx="33.2" cy="686.9" r="0.55" fill="#000" fill-opacity="0.62"/>
<circle cx="13.8" cy="783.5" r="0.55" fill="#000" fill-opacity="0.41"/>
<circle cx="17.8" cy="686.3" r="1.0" fill="#000" fill-opacity="0.47"/>
<circle cx="101.1" cy="756.5" r="0.55" fill="#000" fill-opacity="0.51"/>
<circle cx="30.0" cy="697.6" r="0.65" fill="#000" fill-opacity="0.40"/>
<circle cx="24.0" cy="792.2" r="0.75" fill="#000" fill-opacity="0.51"/>
<circle cx="26.6" cy="736.3" r="0.65" fill="#000" fill-opacity="0.41"/>
<circle cx="89.4" cy="799.4" r="0.55" fill="#000" fill-opacity="0.31"/>
<circle cx="82.0" cy="748.4" r="0.65" fill="#000" fill-opacity="0.51"/>
<circle cx="30.8" cy="736.4" r="0.85" fill="#000" fill-opacity="0.56"/>
<circle cx="62.3" cy="787.2" r="1.0" fill="#000" fill-opacity="0.42"/>
<circle cx="27.6" cy="711.4" r="0.65" fill="#000" fill-opacity="0.63"/>
<circle cx="79.2" cy="758.1" r="0.85" fill="#000" fill-opacity="0.70"/>
<circle cx="108.1" cy="781.3" r="0.55" fill="#000" fill-opacity="0.33"/>
<circle cx="82.8" cy="714.4" r="0.65" fill="#000" fill-opacity="0.32"/>
<circle cx="74.8" cy="728.8" r="1.0" fill="#000" fill-opacity="0.57"/>
<circle cx="34.6" cy="712.9" r="0.75" fill="#000" fill-opacity="0.32"/>
<circle cx="24.5" cy="715.9" r="0.55" fill="#000" fill-opacity="0.41"/>
<circle cx="106.0" cy="796.9" r="1.0" fill="#000" fill-opacity="0.43"/>
<circle cx="8.6" cy="786.5" r="0.65" fill="#000" fill-opacity="0.44"/>
<circle cx="5.1" cy="728.9" r="0.85" fill="#000" fill-opacity="0.41"/>
<circle cx="73.9" cy="713.5" r="0.55" fill="#000" fill-opacity="0.34"/>
<circle cx="90.8" cy="701.5" r="1.0" fill="#000" fill-opacity="0.32"/>
<circle cx="7.4" cy="720.0" r="0.65" fill="#000" fill-opacity="0.33"/>
<circle cx="105.6" cy="783.1" r="0.65" fill="#000" fill-opacity="0.56"/>
<circle cx="80.2" cy="786.1" r="0.85" fill="#000" fill-opacity="0.61"/>
<circle cx="80.7" cy="741.8" r="0.75" fill="#000" fill-opacity="0.59"/>
<circle cx="72.5" cy="690.0" r="1.0" fill="#000" fill-opacity="0.55"/>
<circle cx="82.1" cy="778.4" r="0.65" fill="#000" fill-opacity="0.66"/>
<circle cx="84.1" cy="750.4" r="0.55" fill="#000" fill-opacity="0.63"/>
<circle cx="66.3" cy="787.7" r="0.65" fill="#000" fill-opacity="0.33"/>
<circle cx="9.4" cy="758.3" r="0.55" fill="#000" fill-opacity="0.45"/>
<circle cx="52.4" cy="690.8" r="0.55" fill="#000" fill-opacity="0.55"/>
<circle cx="76.5" cy="741.3" r="0.55" fill="#000" fill-opacity="0.48"/>
<circle cx="12.4" cy="792.2" r="1.0" fill="#000" fill-opacity="0.34"/>
<circle cx="60.2" cy="770.8" r="0.85" fill="#000" fill-opacity="0.40"/>
<circle cx="12.8" cy="715.5" r="0.65" fill="#000" fill-opacity="0.39"/>
<circle cx="73.2" cy="737.9" r="0.85" fill="#000" fill-opacity="0.33"/>
<circle cx="100.6" cy="718.0" r="0.55" fill="#000" fill-opacity="0.55"/>
<circle cx="72.5" cy="693.9" r="0.65" fill="#000" fill-opacity="0.43"/>
<circle cx="73.4" cy="764.7" r="1.0" fill="#000" fill-opacity="0.53"/>
<circle cx="6.3" cy="692.0" r="0.75" fill="#000" fill-opacity="0.69"/>
<circle cx="15.4" cy="710.0" r="0.85" fill="#000" fill-opacity="0.42"/>
<circle cx="38.6" cy="892.9" r="0.85" fill="#000" fill-opacity="0.61"/>
<circle cx="69.6" cy="909.8" r="0.75" fill="#000" fill-opacity="0.69"/>
<circle cx="65.9" cy="803.5" r="0.85" fill="#000" fill-opacity="0.33"/>
<circle cx="37.9" cy="998.9" r="0.75" fill="#000" fill-opacity="0.45"/>
<circle cx="64.6" cy="986.1" r="0.55" fill="#000" fill-opacity="0.53"/>
<circle cx="14.2" cy="904.8" r="0.75" fill="#000" fill-opacity="0.35"/>
<circle cx="58.3" cy="901.7" r="0.55" fill="#000" fill-opacity="0.58"/>
<circle cx="20.0" cy="979.5" r="0.85" fill="#000" fill-opacity="0.46"/>
<circle cx="15.3" cy="990.0" r="0.85" fill="#000" fill-opacity="0.46"/>
<circle cx="52.3" cy="883.2" r="0.85" fill="#000" fill-opacity="0.43"/>
<circle cx="59.6" cy="800.3" r="0.75" fill="#000" fill-opacity="0.64"/>
<circle cx="12.8" cy="985.3" r="0.55" fill="#000" fill-opacity="0.66"/>
<circle cx="23.8" cy="874.4" r="0.85" fill="#000" fill-opacity="0.46"/>
<circle cx="61.5" cy="815.3" r="0.85" fill="#000" fill-opacity="0.60"/>
<circle cx="60.5" cy="856.1" r="0.55" fill="#000" fill-opacity="0.63"/>
<circle cx="23.6" cy="987.1" r="0.65" fill="#000" fill-opacity="0.69"/>
<circle cx="33.4" cy="863.1" r="0.75" fill="#000" fill-opacity="0.61"/>
<circle cx="32.8" cy="805.8" r="0.85" fill="#000" fill-opacity="0.67"/>
<circle cx="66.1" cy="909.8" r="0.55" fill="#000" fill-opacity="0.32"/>
<circle cx="52.6" cy="890.2" r="0.65" fill="#000" fill-opacity="0.56"/>
<circle cx="23.6" cy="809.8" r="1.0" fill="#000" fill-opacity="0.35"/>
<circle cx="35.7" cy="868.7" r="0.75" fill="#000" fill-opacity="0.40"/>
<circle cx="53.0" cy="930.6" r="0.85" fill="#000" fill-opacity="0.56"/>
<circle cx="24.6" cy="911.5" r="0.85" fill="#000" fill-opacity="0.35"/>
<circle cx="46.8" cy="815.0" r="1.0" fill="#000" fill-opacity="0.66"/>
<circle cx="37.3" cy="844.0" r="0.75" fill="#000" fill-opacity="0.70"/>
<circle cx="34.2" cy="827.9" r="0.65" fill="#000" fill-opacity="0.40"/>
<circle cx="16.4" cy="911.2" r="0.75" fill="#000" fill-opacity="0.40"/>
<circle cx="21.8" cy="913.9" r="0.55" fill="#000" fill-opacity="0.60"/>
<circle cx="31.8" cy="882.8" r="1.0" fill="#000" fill-opacity="0.38"/>
<circle cx="22.6" cy="950.4" r="0.85" fill="#000" fill-opacity="0.41"/>
<circle cx="67.9" cy="825.2" r="1.0" fill="#000" fill-opacity="0.51"/>
<circle cx="56.4" cy="969.7" r="0.55" fill="#000" fill-opacity="0.41"/>
<circle cx="21.1" cy="880.0" r="0.85" fill="#000" fill-opacity="0.47"/>
<circle cx="25.3" cy="962.9" r="0.55" fill="#000" fill-opacity="0.35"/>
<circle cx="30.9" cy="1161.6" r="0.85" fill="#000" fill-opacity="0.74"/>
<circle cx="35.3" cy="1078.8" r="1.0" fill="#000" fill-opacity="0.68"/>
<circle cx="68.1" cy="1099.8" r="0.55" fill="#000" fill-opacity="0.40"/>
<circle cx="12.3" cy="1186.6" r="0.55" fill="#000" fill-opacity="0.72"/>
<circle cx="51.1" cy="1147.7" r="0.85" fill="#000" fill-opacity="0.34"/>
<circle cx="54.8" cy="1070.2" r="0.65" fill="#000" fill-opacity="0.40"/>
<circle cx="64.6" cy="1147.5" r="0.75" fill="#000" fill-opacity="0.73"/>
<circle cx="44.6" cy="1133.4" r="0.85" fill="#000" fill-opacity="0.61"/>
<circle cx="9.6" cy="1078.4" r="1.0" fill="#000" fill-opacity="0.72"/>
<circle cx="15.0" cy="1101.3" r="1.0" fill="#000" fill-opacity="0.30"/>
<circle cx="38.5" cy="1189.6" r="0.75" fill="#000" fill-opacity="0.73"/>
<circle cx="45.8" cy="1176.1" r="0.85" fill="#000" fill-opacity="0.54"/>
<circle cx="39.2" cy="1073.5" r="0.85" fill="#000" fill-opacity="0.62"/>
<circle cx="22.9" cy="1072.6" r="0.85" fill="#000" fill-opacity="0.70"/>
<circle cx="46.0" cy="1079.7" r="0.65" fill="#000" fill-opacity="0.60"/>
<circle cx="64.9" cy="1097.2" r="0.55" fill="#000" fill-opacity="0.61"/>
<circle cx="50.8" cy="1113.5" r="0.85" fill="#000" fill-opacity="0.39"/>
<circle cx="56.2" cy="1158.7" r="1.0" fill="#000" fill-opacity="0.33"/>
<circle cx="35.7" cy="1094.0" r="0.65" fill="#000" fill-opacity="0.40"/>
<circle cx="17.1" cy="1161.3" r="0.75" fill="#000" fill-opacity="0.35"/>
<circle cx="44.4" cy="1143.2" r="0.65" fill="#000" fill-opacity="0.52"/>
<circle cx="63.9" cy="1076.8" r="1.0" fill="#000" fill-opacity="0.37"/>
<circle cx="132.9" cy="961.0" r="0.6" fill="#000" fill-opacity="0.45"/>
<circle cx="132.7" cy="968.0" r="0.6" fill="#000" fill-opacity="0.45"/>
<circle cx="133.6" cy="975.0" r="0.6" fill="#000" fill-opacity="0.45"/>
<circle cx="132.6" cy="982.0" r="0.6" fill="#000" fill-opacity="0.45"/>
<circle cx="132.5" cy="989.0" r="0.6" fill="#000" fill-opacity="0.45"/>
<circle cx="132.5" cy="996.0" r="0.6" fill="#000" fill-opacity="0.45"/>
<circle cx="132.9" cy="1003.0" r="0.6" fill="#000" fill-opacity="0.45"/>
<circle cx="133.5" cy="1010.0" r="0.6" fill="#000" fill-opacity="0.45"/>
<circle cx="133.5" cy="1017.0" r="0.6" fill="#000" fill-opacity="0.45"/>
<circle cx="133.3" cy="1024.0" r="0.6" fill="#000" fill-opacity="0.45"/>
<circle cx="133.6" cy="1031.0" r="0.6" fill="#000" fill-opacity="0.45"/>
<circle cx="133.5" cy="1038.0" r="0.6" fill="#000" fill-opacity="0.45"/>
<circle cx="132.8" cy="1045.0" r="0.6" fill="#000" fill-opacity="0.45"/>
<circle cx="132.6" cy="1052.0" r="0.6" fill="#000" fill-opacity="0.45"/>
<circle cx="151.5" cy="488.0" r="0.6" fill="#000" fill-opacity="0.4"/>
<circle cx="151.3" cy="492.0" r="0.6" fill="#000" fill-opacity="0.4"/>
<circle cx="150.4" cy="496.0" r="0.6" fill="#000" fill-opacity="0.4"/>
<circle cx="151.2" cy="500.0" r="0.6" fill="#000" fill-opacity="0.4"/>
<circle cx="150.9" cy="504.0" r="0.6" fill="#000" fill-opacity="0.4"/>
<circle cx="150.8" cy="508.0" r="0.6" fill="#000" fill-opacity="0.4"/>
<circle cx="150.8" cy="512.0" r="0.6" fill="#000" fill-opacity="0.4"/>
<circle cx="150.6" cy="516.0" r="0.6" fill="#000" fill-opacity="0.4"/>
<text x="165.6" y="1224.6" font-size="79" fill="#ffffff" stroke="#ffffff" stroke-width="0.6" textLength="465" lengthAdjust="spacingAndGlyphs" filter="url(#glow)">www.astegiudiziarie.it</text>
<rect x="326" y="1150" width="152" height="28.6" fill="#fff"/>
<g clip-path="url(#viaclip)">
<text x="338" y="1181.6" font-size="19" text-anchor="start" fill="#141414" stroke="#141414" stroke-width="0.2" textLength="129" lengthAdjust="spacingAndGlyphs">Via Fabricatore</text>
</g>
<text x="229.5" y="1263.6" font-size="13" text-anchor="start" fill="#444" textLength="340.3" lengthAdjust="spacingAndGlyphs" transform="matrix(1 0 0 1.08 0 -101.088)">Pubblicazione ufficiale ad esclusivo uso personale - è vietata ogni</text>
<text x="173.5" y="1281.2" font-size="13" text-anchor="start" fill="#444" textLength="449.5" lengthAdjust="spacingAndGlyphs" transform="matrix(1 0 0 1.08 0 -102.496)">ripubblicazione o riproduzione a scopo commerciale - Aut. Min. Giustizia PDG 21/07/09</text>
<path d="M396.5,1292.8 L401,1292.8" fill="none" stroke="#666" stroke-width="1.1" stroke-linejoin="miter" stroke-linecap="butt"/>
<circle cx="694.5" cy="1147" r="0.8" fill="#000" fill-opacity="0.7"/>
<circle cx="626" cy="1204.5" r="0.8" fill="#000" fill-opacity="0.7"/>
<circle cx="784.5" cy="1257" r="0.8" fill="#000" fill-opacity="0.7"/>
<circle cx="763" cy="1199" r="0.8" fill="#000" fill-opacity="0.7"/>
</svg>
</body></html>
